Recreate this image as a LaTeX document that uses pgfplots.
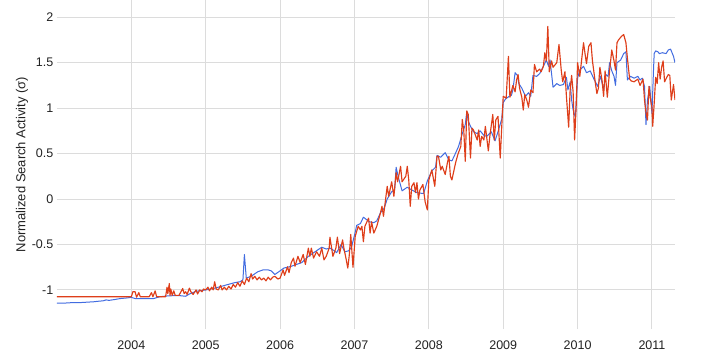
\documentclass[border=0pt]{standalone}
\usepackage{pgfplots}
\pgfplotsset{compat=1.18}
\usepackage{fontspec}
\setmainfont{Liberation Sans}
\definecolor{gblue}{RGB}{66,108,224}
\definecolor{gred}{RGB}{222,62,26}
\definecolor{gridc}{RGB}{220,220,220}
\definecolor{txt}{RGB}{34,34,34}
\begin{document}
\begin{tikzpicture}
\begin{axis}[
  name=ax,
  scale only axis,
  width=618pt, height=329pt,
  xmin=2003.0, xmax=2011.31,
  ymin=-1.43, ymax=2.19,
  axis line style={draw=none},
  major tick length=0pt,
  xtick={2004,2005,2006,2007,2008,2009,2010,2011},
  xticklabels={2004,2005,2006,2007,2008,2009,2010,2011},
  ytick={-1,-0.5,0,0.5,1,1.5,2},
  yticklabels={-1,-0.5,0,0.5,1,1.5,2},
  xmajorgrids, ymajorgrids,
  grid style={gridc, line width=1pt},
  tick label style={font=\fontsize{12.5}{14}\selectfont, text=txt},
  xticklabel style={anchor=north, inner sep=0pt, yshift=-11.5pt},
  yticklabel style={anchor=east, inner sep=0pt, xshift=-3.5pt},
  ylabel={Normalized Search Activity (σ)},
  every axis y label/.style={at={(axis description cs:-0.0566,0.5)}, rotate=90, anchor=center, font=\fontsize{13}{15}\selectfont, text=txt},
]
\addplot[gblue, line width=1.0pt, line join=round] coordinates {
(2003.00,-1.145) (2003.10,-1.145) (2003.20,-1.14) (2003.30,-1.14) (2003.40,-1.135)
(2003.50,-1.13) (2003.55,-1.125) (2003.62,-1.12) (2003.66,-1.11) (2003.70,-1.115)
(2003.78,-1.105) (2003.85,-1.095) (2003.92,-1.09) (2004.00,-1.082) (2004.05,-1.095)
(2004.15,-1.095) (2004.30,-1.095) (2004.38,-1.075) (2004.50,-1.065) (2004.64,-1.062)
(2004.73,-1.07) (2004.78,-1.045) (2004.87,-1.015) (2005.00,-1.0) (2005.10,-0.985)
(2005.17,-0.97) (2005.30,-0.94) (2005.39,-0.92) (2005.46,-0.91) (2005.50,-0.89)
(2005.52,-0.61) (2005.545,-0.87) (2005.61,-0.85) (2005.70,-0.80) (2005.77,-0.78)
(2005.84,-0.78) (2005.88,-0.79) (2005.93,-0.83) (2006.00,-0.79) (2006.05,-0.76)
(2006.15,-0.74) (2006.29,-0.70) (2006.38,-0.63) (2006.47,-0.58) (2006.56,-0.53)
(2006.62,-0.55) (2006.67,-0.54) (2006.73,-0.57) (2006.76,-0.59) (2006.82,-0.50)
(2006.87,-0.58) (2006.92,-0.57) (2006.96,-0.53) (2007.00,-0.40) (2007.03,-0.29)
(2007.08,-0.27) (2007.12,-0.20) (2007.20,-0.25) (2007.26,-0.26) (2007.30,-0.24)
(2007.35,-0.15) (2007.40,-0.10) (2007.44,0.0) (2007.50,0.08) (2007.54,0.10)
(2007.56,0.35) (2007.59,0.24) (2007.64,0.09) (2007.71,0.13) (2007.77,0.10)
(2007.84,0.07) (2007.93,0.06) (2007.98,0.20) (2008.04,0.31) (2008.09,0.35)
(2008.11,0.48) (2008.16,0.46) (2008.22,0.51) (2008.27,0.43) (2008.31,0.42)
(2008.34,0.47) (2008.40,0.58) (2008.45,0.72) (2008.49,0.82) (2008.51,0.96)
(2008.53,0.86) (2008.56,0.80) (2008.60,0.74) (2008.65,0.72) (2008.69,0.75)
(2008.74,0.70) (2008.78,0.69) (2008.84,0.74) (2008.89,0.64) (2008.93,0.74)
(2008.98,0.88) (2009.00,1.06) (2009.03,1.10) (2009.08,1.13) (2009.11,1.14)
(2009.13,1.20) (2009.16,1.39) (2009.19,1.36) (2009.21,1.27) (2009.25,1.22)
(2009.30,1.13) (2009.34,1.17) (2009.37,1.13) (2009.40,1.36) (2009.45,1.35)
(2009.49,1.38) (2009.54,1.46) (2009.58,1.53) (2009.61,1.46) (2009.63,1.53)
(2009.67,1.23) (2009.72,1.27) (2009.76,1.25) (2009.81,1.26) (2009.85,1.34)
(2009.87,1.20) (2009.90,1.29) (2009.92,1.09) (2009.94,0.98) (2009.97,0.90)
(2010.00,1.33) (2010.03,1.42) (2010.08,1.46) (2010.12,1.39) (2010.17,1.41)
(2010.22,1.32) (2010.27,1.24) (2010.31,1.35) (2010.35,1.20) (2010.38,1.37)
(2010.41,1.35) (2010.43,1.50) (2010.46,1.41) (2010.49,1.35) (2010.51,1.25)
(2010.53,1.50) (2010.58,1.53) (2010.62,1.60) (2010.65,1.62) (2010.67,1.31)
(2010.71,1.35) (2010.76,1.33) (2010.81,1.35) (2010.84,1.31) (2010.87,1.33)
(2010.90,1.24) (2010.92,0.82) (2010.94,1.09) (2010.97,1.24) (2011.00,0.94)
(2011.02,1.40) (2011.03,1.60) (2011.05,1.63) (2011.08,1.62) (2011.10,1.60)
(2011.14,1.61) (2011.19,1.60) (2011.22,1.64) (2011.25,1.65) (2011.26,1.63)
(2011.29,1.57) (2011.31,1.50)
};
\addplot[gred, line width=1.15pt, line join=round] coordinates {
(2003.00,-1.075) (2004.00,-1.075) (2004.02,-1.02) (2004.05,-1.02) (2004.07,-1.08)
(2004.10,-1.03) (2004.12,-1.075) (2004.24,-1.075) (2004.27,-1.03) (2004.29,-1.075)
(2004.32,-1.01) (2004.34,-1.075) (2004.46,-1.075) (2004.48,-0.97) (2004.49,-1.04)
(2004.51,-0.93) (2004.52,-1.06) (2004.53,-0.99) (2004.55,-1.06) (2004.57,-1.01)
(2004.59,-1.06) (2004.64,-1.06) (2004.69,-0.985) (2004.71,-1.04) (2004.73,-1.02)
(2004.75,-1.05) (2004.78,-0.98) (2004.80,-1.02) (2004.83,-1.05) (2004.87,-1.0)
(2004.89,-1.045) (2004.92,-1.0) (2004.95,-1.02) (2004.97,-0.99) (2005.00,-1.0)
(2005.03,-0.97) (2005.05,-1.01) (2005.08,-0.97) (2005.10,-1.0) (2005.12,-0.91)
(2005.14,-0.99) (2005.17,-1.0) (2005.20,-0.95) (2005.22,-1.0) (2005.25,-0.97)
(2005.28,-1.0) (2005.31,-0.96) (2005.34,-0.99) (2005.37,-0.94) (2005.40,-0.97)
(2005.43,-0.92) (2005.46,-0.96) (2005.49,-0.90) (2005.52,-0.94) (2005.55,-0.87)
(2005.58,-0.91) (2005.61,-0.82) (2005.63,-0.88) (2005.66,-0.85) (2005.69,-0.89)
(2005.72,-0.86) (2005.75,-0.89) (2005.78,-0.87) (2005.81,-0.90) (2005.84,-0.86)
(2005.87,-0.89) (2005.90,-0.86) (2005.93,-0.85) (2005.97,-0.88) (2006.00,-0.87)
(2006.04,-0.78) (2006.06,-0.84) (2006.10,-0.745) (2006.12,-0.81) (2006.15,-0.70)
(2006.18,-0.65) (2006.20,-0.74) (2006.24,-0.63) (2006.27,-0.70) (2006.31,-0.61)
(2006.34,-0.72) (2006.38,-0.54) (2006.40,-0.63) (2006.42,-0.54) (2006.45,-0.65)
(2006.49,-0.58) (2006.53,-0.63) (2006.56,-0.54) (2006.59,-0.67) (2006.62,-0.63)
(2006.66,-0.54) (2006.67,-0.42) (2006.71,-0.63) (2006.75,-0.54) (2006.77,-0.42)
(2006.80,-0.60) (2006.84,-0.45) (2006.86,-0.55) (2006.89,-0.67) (2006.91,-0.76)
(2006.93,-0.62) (2006.95,-0.39) (2006.98,-0.75) (2007.01,-0.41) (2007.05,-0.30)
(2007.08,-0.34) (2007.10,-0.30) (2007.12,-0.47) (2007.14,-0.30) (2007.19,-0.21)
(2007.21,-0.375) (2007.23,-0.25) (2007.26,-0.375) (2007.30,-0.30) (2007.35,-0.15)
(2007.37,-0.08) (2007.39,-0.19) (2007.44,0.14) (2007.46,0.03) (2007.50,0.19)
(2007.53,0.03) (2007.56,0.29) (2007.58,0.19) (2007.62,0.36) (2007.64,0.19)
(2007.69,0.25) (2007.71,0.36) (2007.73,0.21) (2007.75,-0.08) (2007.77,0.14)
(2007.80,0.18) (2007.82,0.07) (2007.84,0.18) (2007.86,0.0) (2007.88,0.10)
(2007.92,0.16) (2007.95,-0.03) (2007.98,-0.12) (2008.00,0.21) (2008.04,0.32)
(2008.08,0.14) (2008.11,0.47) (2008.13,0.47) (2008.16,0.32) (2008.18,0.36)
(2008.22,0.27) (2008.25,0.40) (2008.27,0.47) (2008.29,0.25) (2008.31,0.21)
(2008.36,0.40) (2008.39,0.49) (2008.43,0.58) (2008.45,0.875) (2008.47,0.75)
(2008.49,0.415) (2008.51,0.97) (2008.53,0.93) (2008.56,0.45) (2008.58,0.78)
(2008.60,0.76) (2008.65,0.65) (2008.67,0.76) (2008.69,0.58) (2008.71,0.69)
(2008.74,0.65) (2008.76,0.80) (2008.80,0.53) (2008.82,0.69) (2008.86,0.93)
(2008.88,0.65) (2008.90,0.87) (2008.93,0.91) (2008.96,0.45) (2009.00,1.13)
(2009.04,1.11) (2009.07,1.57) (2009.09,1.12) (2009.13,1.25) (2009.16,1.18)
(2009.18,1.31) (2009.20,1.37) (2009.22,1.22) (2009.25,1.12) (2009.27,0.98)
(2009.29,1.15) (2009.32,1.08) (2009.34,1.01) (2009.37,1.20) (2009.40,1.17)
(2009.42,1.48) (2009.45,1.40) (2009.49,1.43) (2009.51,1.40) (2009.54,1.46)
(2009.56,1.61) (2009.58,1.52) (2009.60,1.90) (2009.62,1.40) (2009.65,1.52)
(2009.67,1.45) (2009.72,1.50) (2009.75,1.70) (2009.78,1.42) (2009.80,1.29)
(2009.83,1.40) (2009.85,1.13) (2009.88,0.79) (2009.90,1.20) (2009.92,1.36)
(2009.94,1.18) (2009.96,0.65) (2009.98,1.0) (2010.00,1.50) (2010.03,1.35)
(2010.08,1.72) (2010.10,1.60) (2010.12,1.49) (2010.15,1.68) (2010.18,1.72)
(2010.20,1.52) (2010.24,1.27) (2010.26,1.16) (2010.28,1.22) (2010.30,1.45)
(2010.33,1.30) (2010.35,1.13) (2010.37,1.41) (2010.40,1.12) (2010.43,1.41)
(2010.46,1.64) (2010.49,1.52) (2010.51,1.42) (2010.53,1.72) (2010.55,1.75)
(2010.59,1.79) (2010.62,1.81) (2010.65,1.72) (2010.67,1.55) (2010.70,1.32)
(2010.72,1.30) (2010.76,1.29) (2010.81,1.32) (2010.84,1.25) (2010.88,1.32)
(2010.90,1.09) (2010.92,0.95) (2010.94,0.87) (2010.96,1.24) (2010.98,1.10)
(2011.00,1.01) (2011.01,0.80) (2011.03,1.05) (2011.05,1.34) (2011.07,1.27)
(2011.09,1.50) (2011.11,1.32) (2011.13,1.45) (2011.15,1.52) (2011.17,1.29)
(2011.20,1.34) (2011.22,1.37) (2011.24,1.36) (2011.26,1.09) (2011.29,1.26)
(2011.31,1.09)
};
\end{axis}
\pgfresetboundingbox
\path[use as bounding box] ([xshift=-57pt,yshift=-33pt]ax.south west) rectangle ([xshift=32pt]ax.north east);
\end{tikzpicture}
\end{document}
